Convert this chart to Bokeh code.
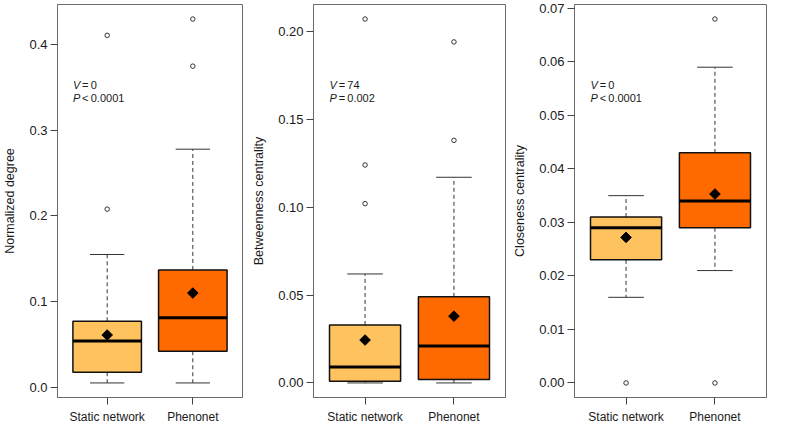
import math
from bokeh.plotting import figure
from bokeh.layouts import row
from bokeh.models import Range1d, FixedTicker, PrintfTickFormatter
from bokeh.core.properties import value
from bokeh.embed import file_html
from bokeh.resources import INLINE

# ---------------- data ----------------
categories = ["Static network", "Phenonet"]
y_titles = ["Normalized degree", "Betweenness centrality", "Closeness centrality"]

# Normalized degree  [static, phenonet]
deg_low = [0.005, 0.005]
deg_q1 = [0.0175, 0.042]
deg_med = [0.054, 0.081]
deg_q3 = [0.077, 0.137]
deg_high = [0.155, 0.278]
deg_mean = [0.061, 0.110]
deg_out_grp = [1, 1, 2, 2]
deg_out_val = [0.411, 0.208, 0.430, 0.375]

# Betweenness centrality
btw_low = [0.0, 0.0]
btw_q1 = [0.001, 0.002]
btw_med = [0.009, 0.021]
btw_q3 = [0.033, 0.049]
btw_high = [0.062, 0.117]
btw_mean = [0.0244, 0.038]
btw_out_grp = [1, 1, 1, 2, 2]
btw_out_val = [0.207, 0.124, 0.102, 0.194, 0.138]

# Closeness centrality
clo_low = [0.016, 0.021]
clo_q1 = [0.023, 0.029]
clo_med = [0.029, 0.034]
clo_q3 = [0.031, 0.043]
clo_high = [0.035, 0.059]
clo_mean = [0.0272, 0.0353]
clo_out_grp = [1, 2, 2]
clo_out_val = [0.0, 0.068, 0.0]

deg_ticks = [0.0, 0.1, 0.2, 0.3, 0.4]
btw_ticks = [0.0, 0.05, 0.10, 0.15, 0.20]
clo_ticks = [0.0, 0.01, 0.02, 0.03, 0.04, 0.05, 0.06, 0.07]
tick_formats = ["%.1f", "%.2f", "%.2f"]

test_V = ["0", "74", "0"]
test_P = ["<", "=", "<"]
test_Pval = ["0.0001", "0.002", "0.0001"]

box_colors = ["#FEC35E", "#FF6A00"]

FONT = "Liberation Sans"

panels = [
    (deg_low, deg_q1, deg_med, deg_q3, deg_high, deg_mean, deg_out_grp, deg_out_val, deg_ticks),
    (btw_low, btw_q1, btw_med, btw_q3, btw_high, btw_mean, btw_out_grp, btw_out_val, btw_ticks),
    (clo_low, clo_q1, clo_med, clo_q3, clo_high, clo_mean, clo_out_grp, clo_out_val, clo_ticks),
]

layout_spec = [(245, 50, 3), (263, 68, 3), (262, 66, 4)]


def make_panel(i):
    low, q1, med, q3, high, mean, out_g, out_v, ticks = panels[i]
    width, bl, br = layout_spec[i]
    allv = low + high + out_v
    lo, hi = min(allv), max(allv)
    pad = 0.04 * (hi - lo)
    lo, hi = lo - pad, hi + pad
    xs = [1, 2]
    p = figure(width=width, height=427, x_range=Range1d(0.42, 2.58), y_range=Range1d(lo, hi),
               output_backend="svg", toolbar_location=None,
               min_border_left=bl, min_border_right=br, min_border_top=4, min_border_bottom=30)
    p.xgrid.visible = False
    p.ygrid.visible = False
    p.outline_line_color = "#6b6b6b"
    p.outline_line_width = 1
    p.background_fill_color = "white"

    # whiskers
    p.segment(x0=xs, y0=q3, x1=xs, y1=high, line_color="#333333", line_width=1, line_dash="4 3")
    p.segment(x0=xs, y0=q1, x1=xs, y1=low, line_color="#333333", line_width=1, line_dash="4 3")
    # caps
    p.segment(x0=[x - 0.2 for x in xs], x1=[x + 0.2 for x in xs], y0=high, y1=high,
              line_color="#333333", line_width=1)
    p.segment(x0=[x - 0.2 for x in xs], x1=[x + 0.2 for x in xs], y0=low, y1=low,
              line_color="#333333", line_width=1)
    # boxes
    p.quad(left=[x - 0.4 for x in xs], right=[x + 0.4 for x in xs], bottom=q1, top=q3,
           fill_color=box_colors, line_color="#111111", line_width=1.5)
    # medians
    p.segment(x0=[x - 0.4 for x in xs], x1=[x + 0.4 for x in xs], y0=med, y1=med,
              line_color="black", line_width=3)
    # means
    p.scatter(x=xs, y=mean, marker="square", angle=math.pi / 4, size=7.5,
              fill_color="black", line_color="black")
    # outliers
    p.scatter(x=out_g, y=out_v, marker="circle", size=4.5, fill_color="white",
              line_color="#333333", line_width=1)

    # annotation
    ay = hi - 0.205 * (hi - lo)
    common = dict(text_font=value(FONT), text_font_size="11px", text_baseline="middle",
                  text_align="left", text_color="#1a1a1a")
    p.text(x=[0.6], y=[ay], text=["V"], text_font_style="italic", **common)
    p.text(x=[0.6], y=[ay], text=["\u2009=\u2009" + test_V[i]], x_offset=7, **common)
    p.text(x=[0.6], y=[ay], text=["P"], y_offset=13, text_font_style="italic", **common)
    p.text(x=[0.6], y=[ay], text=["\u2009" + test_P[i] + "\u2009" + test_Pval[i]],
           x_offset=7, y_offset=13, **common)

    # axes
    p.xaxis.ticker = FixedTicker(ticks=xs)
    p.xaxis.major_label_overrides = {1: categories[0], 2: categories[1]}
    p.yaxis.ticker = FixedTicker(ticks=ticks)
    p.yaxis.formatter = PrintfTickFormatter(format=tick_formats[i])
    p.yaxis.axis_label = y_titles[i]
    for ax in (p.xaxis, p.yaxis):
        ax.major_tick_out = 7
        ax.major_tick_in = 0
        ax.minor_tick_line_color = None
        ax.major_tick_line_color = "#444444"
        ax.axis_line_color = "#6b6b6b"
        ax.major_label_text_font = FONT
        ax.major_label_text_color = "#1a1a1a"
        ax.axis_label_text_font = FONT
        ax.axis_label_text_font_size = "12.5px"
        ax.axis_label_text_font_style = "normal"
        ax.axis_label_text_color = "#1a1a1a"
    p.xaxis.major_label_text_font_size = "12px"
    p.yaxis.major_label_text_font_size = "13px"
    p.xaxis.major_label_standoff = 5
    p.yaxis.major_label_standoff = 3
    p.yaxis.axis_label_standoff = 9
    return p


figs = [make_panel(i) for i in range(3)]
layout = row(*figs)
open("out.html", "w").write(file_html(layout, INLINE))
